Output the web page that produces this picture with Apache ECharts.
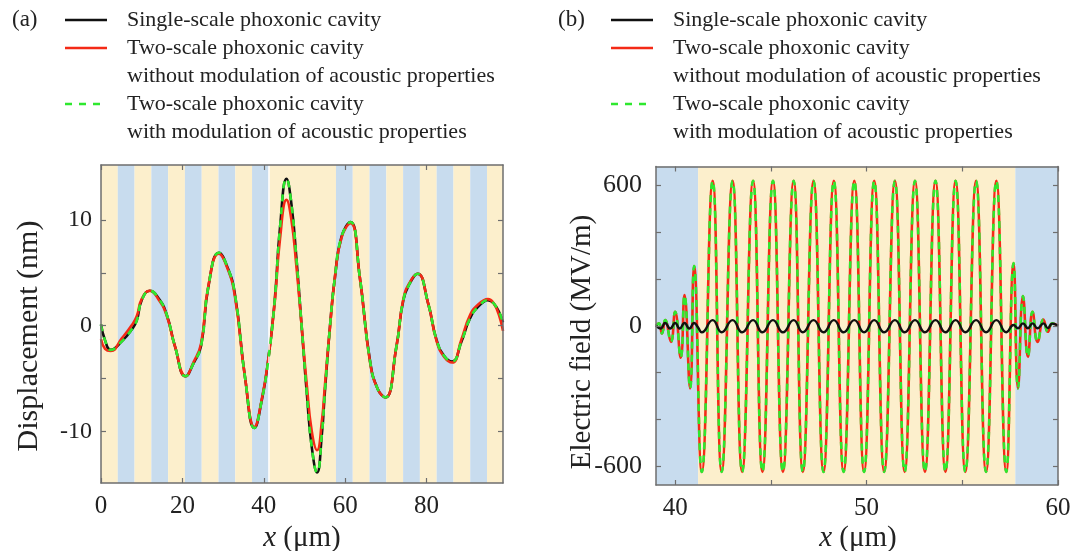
<!DOCTYPE html>
<html><head><meta charset="utf-8">
<script src="https://cdn.jsdelivr.net/npm/echarts@6/dist/echarts.min.js"></script>
<style>html,body{margin:0;padding:0;background:#fff}#c{width:1085px;height:551px}</style>
</head><body><div id="c"></div>
<script>
// ---------- Panel (a): displacement (nm) vs x (um) ----------
const dispX = [0, 1.0, 2.4, 5.1, 7.5, 8.8, 10.0, 12.0, 14.1, 16.1, 18.2, 20.8, 22.7, 24.6, 26.4, 29.0, 30.9, 32.9, 35.4, 37.7, 39.5, 41.1, 42.7, 44.0, 45.6, 46.8, 48.0, 49.3, 50.6, 51.8, 53.1, 54.3, 55.0, 56.3, 57.5, 59.1, 61.3, 63.6, 66.1, 68.0, 69.9, 72.6, 74.3, 75.9, 77.8, 80.4, 82.5, 84.4, 86.3, 88.6, 90.6, 92.7, 95.1, 98.8];
const dispSingle = [0.1, -1.4, -2.3, -1.5, -0.4, 0.5, 2.4, 3.3, 2.6, 1.1, -2.0, -4.8, -3.6, -1.9, 3.7, 6.9, 5.7, 3.0, -4.9, -9.7, -7.1, -3.3, 2.4, 9.3, 13.9, 11.5, 6.5, 0.0, -6.5, -11.5, -13.9, -10.2, -6.4, 0.0, 4.6, 8.4, 9.8, 4.6, -3.3, -6.0, -6.8, -2.0, 2.4, 4.0, 4.9, 2.1, -1.4, -2.9, -3.4, -1.5, 0.6, 1.8, 2.4, 0.3];
const dispTwoNoMod = [-1.3, -2.2, -2.4, -1.2, 0.0, 0.9, 2.5, 3.3, 2.5, 1.0, -2.0, -4.8, -3.5, -1.7, 3.8, 6.8, 5.6, 2.8, -4.9, -9.6, -7.0, -3.2, 2.2, 8.2, 11.9, 10.0, 5.7, 0.0, -5.7, -10.0, -11.8, -9.0, -5.8, 0.0, 4.6, 8.3, 9.7, 4.6, -3.4, -6.0, -6.8, -2.0, 2.5, 4.1, 4.9, 2.1, -1.5, -3.0, -3.5, -1.3, 0.9, 2.0, 2.5, -0.5];
const dispTwoMod = [0.1, -1.4, -2.3, -1.5, -0.4, 0.5, 2.4, 3.3, 2.6, 1.1, -2.0, -4.8, -3.6, -1.9, 3.7, 6.9, 5.7, 3.0, -4.9, -9.7, -7.1, -3.3, 2.4, 9.3, 13.9, 11.5, 6.5, 0.0, -6.5, -11.5, -13.9, -10.2, -6.4, 0.0, 4.6, 8.4, 9.8, 4.6, -3.3, -6.0, -6.8, -2.0, 2.4, 4.0, 4.9, 2.1, -1.4, -2.9, -3.4, -1.5, 0.6, 1.8, 2.4, 0.3];
// layer boundaries (um) and layer kind for panel (a)
const layerEdgesA = [0, 4.125, 8.25, 12.375, 16.5, 20.625, 24.75, 28.875, 33.0, 37.125, 41.25, 57.75, 61.875, 66.0, 70.125, 74.25, 78.375, 82.5, 86.625, 90.75, 94.875, 99.0];
const layerKindA = ['Y','B','Y','B','Y','B','Y','B','Y','B','Y','B','Y','B','Y','B','Y','B','Y','B','Y'];
const xTicksA = [0, 20, 40, 60, 80];
const yTicksA = [-10, -5, 0, 5, 10];
const yLabelsA = [-10, 0, 10];

// ---------- Panel (b): electric field (MV/m) vs x (um) ----------
const fieldTwoX = [39.00, 39.15, 39.31, 39.48, 39.78, 40.00, 40.29, 40.49, 40.78, 40.99, 41.39, 41.96, 42.43, 43.00, 43.50, 44.07, 44.56, 45.11, 45.63, 46.19, 46.67, 47.23, 47.75, 48.29, 48.80, 49.36, 49.87, 50.40, 50.92, 51.48, 51.99, 52.53, 53.05, 53.60, 54.12, 54.65, 55.16, 55.72, 56.24, 56.78, 57.30, 57.68, 57.91, 58.17, 58.43, 58.67, 58.93, 59.24, 59.47, 59.70, 60.00];
const fieldTwo = [0, 10, -33, 24, -69, 60, -137, 131, -268, 256, -626, 621, -626, 621, -626, 621, -626, 621, -626, 621, -626, 621, -626, 621, -626, 621, -626, 621, -626, 621, -626, 621, -626, 621, -626, 621, -626, 621, -626, 621, -626, 268, -268, 127, -133, 60, -69, 27, -26, 10, 0];
const fieldSingleX = [39.00, 39.24, 39.48, 39.74, 40.00, 40.24, 40.49, 40.74, 40.99, 41.20, 41.39, 41.96, 42.43, 43.00, 43.50, 44.07, 44.56, 45.11, 45.63, 46.19, 46.67, 47.23, 47.75, 48.29, 48.80, 49.36, 49.87, 50.40, 50.92, 51.48, 51.99, 52.53, 53.05, 53.60, 54.12, 54.65, 55.16, 55.72, 56.24, 56.78, 57.30, 57.68, 57.91, 58.17, 58.43, 58.67, 58.93, 59.24, 59.47, 59.70, 60.00];
const fieldSingle = [0, -12, 12, -12, 12, -12, 12, -12, 12, -8, -28, 24, -28, 24, -28, 24, -28, 24, -28, 24, -28, 24, -28, 24, -28, 24, -28, 24, -28, 24, -28, 24, -28, 24, -28, 24, -28, 24, -28, 24, -28, 3, -11, 10, -11, 10, -11, 10, -10, 9, 0];
const layerEdgesB = [39, 41.2, 57.77, 60];
const layerKindB = ['B', 'Y', 'B'];
const xTicksB = [40, 45, 50, 55, 60];
const xLabelsB = [40, 50, 60];
const yTicksB = [-600, -400, -200, 0, 200, 400, 600];
const yLabelsB = [-600, 0, 600];

const legendTexts = ['Single-scale phoxonic cavity', 'Two-scale phoxonic cavity', 'without modulation of acoustic properties', 'Two-scale phoxonic cavity', 'with modulation of acoustic properties'];

// ---------- styling ----------
const SERIF = '"Liberation Serif", "Times New Roman", serif';
const C_BLACK = '#111111', C_RED = '#f42a16', C_GREEN = '#2ee82e';
const C_Y = '#fcefcc', C_B = '#c8dcee';
const AX = '#6e6e6e';

function zipXY(xs, ys) { return xs.map((x, i) => [x, ys[i]]); }
function areas(edges, kinds) {
  const out = [];
  for (let i = 0; i < kinds.length; i++) {
    out.push([{ xAxis: edges[i], itemStyle: { color: kinds[i] === 'Y' ? C_Y : C_B } }, { xAxis: edges[i + 1] }]);
  }
  return out;
}
function xAx(grid, min, max, ticks, labels, pos) {
  return {
    type: 'value', gridIndex: grid, min: min, max: max, position: pos, z: 10,
    axisLine: { show: true, onZero: false, lineStyle: { color: AX, width: 1.5 } },
    axisTick: { show: true, inside: true, length: 5, customValues: ticks, lineStyle: { color: AX, width: 1.2 } },
    axisLabel: labels ? { show: true, customValues: labels, fontFamily: SERIF, fontSize: 25, color: '#222', margin: 11 } : { show: false },
    splitLine: { show: false }
  };
}
function yAx(grid, min, max, ticks, labels, pos, fs, mg) {
  return {
    type: 'value', gridIndex: grid, min: min, max: max, position: pos, z: 10,
    axisLine: { show: true, onZero: false, lineStyle: { color: AX, width: 1.5 } },
    axisTick: { show: true, inside: true, length: 5, customValues: ticks, lineStyle: { color: AX, width: 1.2 } },
    axisLabel: labels ? { show: true, customValues: labels, fontFamily: SERIF, fontSize: fs, color: '#222', margin: mg } : { show: false },
    splitLine: { show: false }
  };
}
function lineSeries(xi, yi, data, color, width, dashed, z) {
  return {
    type: 'line', xAxisIndex: xi, yAxisIndex: yi, data: data, smooth: 0.5, symbol: 'none', z: z,
    clip: true, silent: true, animation: false,
    lineStyle: { color: color, width: width, type: dashed ? [7, 6] : 'solid' }
  };
}

function legendGraphics(x0, labelTxt) {
  const rows = [20, 48, 76, 104, 132];
  const g = [];
  g.push({ type: 'text', x: x0, y: rows[0], style: { text: labelTxt, font: '23px ' + SERIF, fill: '#222', textVerticalAlign: 'middle' } });
  const lx1 = x0 + 53, lx2 = x0 + 95, tx = x0 + 115;
  g.push({ type: 'line', shape: { x1: lx1, y1: rows[0], x2: lx2, y2: rows[0] }, style: { stroke: C_BLACK, lineWidth: 2.5 } });
  g.push({ type: 'line', shape: { x1: lx1, y1: rows[1], x2: lx2, y2: rows[1] }, style: { stroke: C_RED, lineWidth: 2.5 } });
  g.push({ type: 'line', shape: { x1: lx1, y1: rows[3], x2: lx2, y2: rows[3] }, style: { stroke: C_GREEN, lineWidth: 2.5, lineDash: [7, 7] } });
  legendTexts.forEach((t, i) => {
    g.push({ type: 'text', x: tx, y: rows[i], style: { text: t, font: '22px ' + SERIF, fill: '#222', textVerticalAlign: 'middle' } });
  });
  return g;
}

const graphics = [].concat(
  legendGraphics(12, '(a)'),
  legendGraphics(558, '(b)'),
  [
    { type: 'text', x: 29, y: 336, rotation: Math.PI / 2, style: { text: 'Displacement (nm)', font: '30px ' + SERIF, fill: '#222', textAlign: 'center', textVerticalAlign: 'middle' } },
    { type: 'text', x: 582, y: 342, rotation: Math.PI / 2, style: { text: 'Electric field (MV/m)', font: '29px ' + SERIF, fill: '#222', textAlign: 'center', textVerticalAlign: 'middle' } },
    { type: 'text', x: 302, y: 538, style: { text: '{i|x} (μm)', font: '29px ' + SERIF, fill: '#222', textAlign: 'center', textVerticalAlign: 'middle', rich: { i: { fontStyle: 'italic', fontFamily: SERIF, fontSize: 29, fill: '#222' } } } },
    { type: 'text', x: 858, y: 538, style: { text: '{i|x} (μm)', font: '29px ' + SERIF, fill: '#222', textAlign: 'center', textVerticalAlign: 'middle', rich: { i: { fontStyle: 'italic', fontFamily: SERIF, fontSize: 29, fill: '#222' } } } }
  ]
);

const chart = echarts.init(document.getElementById('c'), null, { renderer: 'canvas' });
chart.setOption({
  animation: false,
  backgroundColor: '#ffffff',
  grid: [
    { left: 101, top: 165, width: 402, height: 318, show: false },
    { left: 656, top: 166.5, width: 402, height: 318.5, show: false }
  ],
  xAxis: [
    xAx(0, 0, 98.8, xTicksA, xTicksA, 'bottom'),
    xAx(0, 0, 98.8, xTicksA, null, 'top'),
    xAx(1, 39, 60, xTicksB, xLabelsB, 'bottom'),
    xAx(1, 39, 60, xTicksB, null, 'top')
  ],
  yAxis: [
    yAx(0, -14.9, 15.2, yTicksA, yLabelsA, 'left', 24, 9),
    yAx(0, -14.9, 15.2, yTicksA, null, 'right'),
    yAx(1, -682, 682, yTicksB, yLabelsB, 'left', 26, 14),
    yAx(1, -682, 682, yTicksB, null, 'right')
  ],
  series: [
    { type: 'line', xAxisIndex: 0, yAxisIndex: 0, data: [[0, 0]], symbol: 'none', z: 1, silent: true,
      lineStyle: { opacity: 0 },
      markArea: { silent: true, label: { show: false }, data: areas(layerEdgesA, layerKindA) },
      markLine: { silent: true, symbol: 'none', label: { show: false }, lineStyle: { color: '#ffffff', width: 1.5, type: 'solid' }, data: [{ xAxis: layerEdgesA[10] }] } },
    lineSeries(0, 0, zipXY(dispX, dispSingle), C_BLACK, 2.6, false, 3),
    lineSeries(0, 0, zipXY(dispX, dispTwoNoMod), C_RED, 2.6, false, 4),
    lineSeries(0, 0, zipXY(dispX, dispTwoMod), C_GREEN, 2.6, true, 5),
    { type: 'line', xAxisIndex: 2, yAxisIndex: 2, data: [[39, 0]], symbol: 'none', z: 1, silent: true,
      lineStyle: { opacity: 0 },
      markArea: { silent: true, label: { show: false }, data: areas(layerEdgesB, layerKindB) } },
    lineSeries(2, 2, zipXY(fieldTwoX, fieldTwo), C_RED, 2.6, false, 3),
    lineSeries(2, 2, zipXY(fieldTwoX, fieldTwo), C_GREEN, 2.6, true, 4),
    lineSeries(2, 2, zipXY(fieldSingleX, fieldSingle), C_BLACK, 2.4, false, 5)
  ],
  graphic: graphics
});
</script>
</body></html>
